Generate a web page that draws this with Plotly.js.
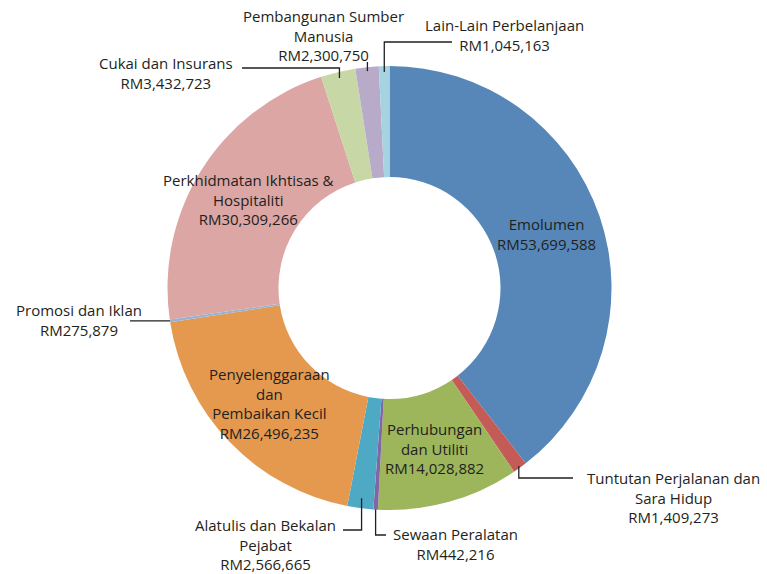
<!DOCTYPE html>
<html>
<head>
<meta charset="utf-8">
<script src="https://cdn.plot.ly/plotly-3.0.1.min.js"></script>
<style>html,body{margin:0;padding:0;background:#fff;}#chart{width:767px;height:574px;}</style>
</head>
<body>
<div id="chart"></div>
<script>
// ---- Data ----
const categories = [
  "Emolumen",
  "Tuntutan Perjalanan dan Sara Hidup",
  "Perhubungan dan Utiliti",
  "Sewaan Peralatan",
  "Alatulis dan Bekalan Pejabat",
  "Penyelenggaraan dan Pembaikan Kecil",
  "Promosi dan Iklan",
  "Perkhidmatan Ikhtisas & Hospitaliti",
  "Cukai dan Insurans",
  "Pembangunan Sumber Manusia",
  "Lain-Lain Perbelanjaan"
];
const values = [53699588, 1409273, 14028882, 442216, 2566665, 26496235, 275879, 30309266, 3432723, 2300750, 1045163];
const labelLines = [
  ["Emolumen"],
  ["Tuntutan Perjalanan dan", "Sara Hidup"],
  ["Perhubungan", "dan Utiliti"],
  ["Sewaan Peralatan"],
  ["Alatulis dan Bekalan", "Pejabat"],
  ["Penyelenggaraan", "dan", "Pembaikan Kecil"],
  ["Promosi dan Iklan"],
  ["Perkhidmatan Ikhtisas &", "Hospitaliti"],
  ["Cukai dan Insurans"],
  ["Pembangunan Sumber", "Manusia"],
  ["Lain-Lain Perbelanjaan"]
];
const colors = ["#5687b8", "#c45b57", "#9db65c", "#8166a3", "#4eaac4", "#e4994f", "#95b3d7", "#dba6a4", "#c7d8a6", "#b8abca", "#a5d3e1"];

// ---- Layout geometry ----
const W = 767, H = 574;
const cx = 389.5, cy = 288, R = 222, hole = 0.5;
const P = (x, y) => [x / W, 1 - y / H];

const total = values.reduce((a, b) => a + b, 0);
const midAngles = [];
let cum = 0;
values.forEach(v => { midAngles.push((cum + v / 2) / total * 2 * Math.PI); cum += v; });
const polar = (i, r) => [cx + r * Math.sin(midAngles[i]), cy - r * Math.cos(midAngles[i])];
const fmt = v => "RM" + String(v).replace(/\B(?=(\d{3})+(?!\d))/g, ",");
const labelText = i => labelLines[i].concat([fmt(values[i])]).join("<br>");

const font = {family: "Open Sans, Lato, sans-serif", size: 15, color: "#231f20"};
const annotations = [];
const shapes = [];

function addBlock(i, x, yc) {
  const [px, py] = P(x, yc);
  annotations.push({x: px, y: py, xref: "paper", yref: "paper", text: labelText(i), showarrow: false,
    xanchor: "center", yanchor: "middle", align: "center", borderpad: 0, font: font});
}

// inside labels: centred on ring middle
const insideIdx = [0, 2, 5, 7];
const rMid = R * (1 + hole) / 2;
insideIdx.forEach(i => {
  const [x, y] = polar(i, rMid);
  addBlock(i, x, y);
});

// outside labels: text block centre + leader path (elbow points)
const outside = [
  {i: 1, tx: 673, ty: 497, rs: R - 2, path: s => [s, [s[0], 478], [573, 478]]},
  {i: 3, tx: 456, ty: 544, rs: R, path: s => [s, [s[0], 535], [386, 535]]},
  {i: 4, tx: 265, ty: 544.5, rs: R - 10, path: s => [s, [s[0], 530], [343, 530]]},
  {i: 6, tx: 79, ty: 319.5, rs: R, path: s => [s, [130, s[1]]]},
  {i: 8, tx: 166, ty: 73, rs: R - 6, path: s => [s, [s[0], 68], [242, 68]]},
  {i: 9, tx: 323, ty: 35.5, rs: R - 4, path: s => [s, [s[0], 62]]},
  {i: 10, tx: 505, ty: 35.5, rs: R - 6, path: s => [s, [s[0], 42], [452, 42]]}
];
outside.forEach(o => {
  addBlock(o.i, o.tx, o.ty);
  const pts = o.path(polar(o.i, o.rs));
  const d = pts.map((p, k) => { const q = P(p[0], p[1]); return (k ? "L" : "M") + q[0].toFixed(5) + "," + q[1].toFixed(5); }).join(" ");
  shapes.push({type: "path", xref: "paper", yref: "paper", path: d, line: {color: "#231f20", width: 1.3}});
});

const trace = {
  type: "pie",
  labels: categories,
  values: values,
  sort: false,
  direction: "clockwise",
  rotation: 0,
  hole: hole,
  textinfo: "none",
  hoverinfo: "label+value",
  marker: {colors: colors, line: {color: "#ffffff", width: 0}},
  domain: {x: [(cx - R) / W, (cx + R) / W], y: [1 - (cy + R) / H, 1 - (cy - R) / H]},
  showlegend: false
};

const layout = {
  width: W, height: H,
  margin: {l: 0, r: 0, t: 0, b: 0},
  paper_bgcolor: "#ffffff",
  showlegend: false,
  annotations: annotations,
  shapes: shapes
};

Plotly.newPlot("chart", [trace], layout, {displayModeBar: false, staticPlot: true});
</script>
</body>
</html>
